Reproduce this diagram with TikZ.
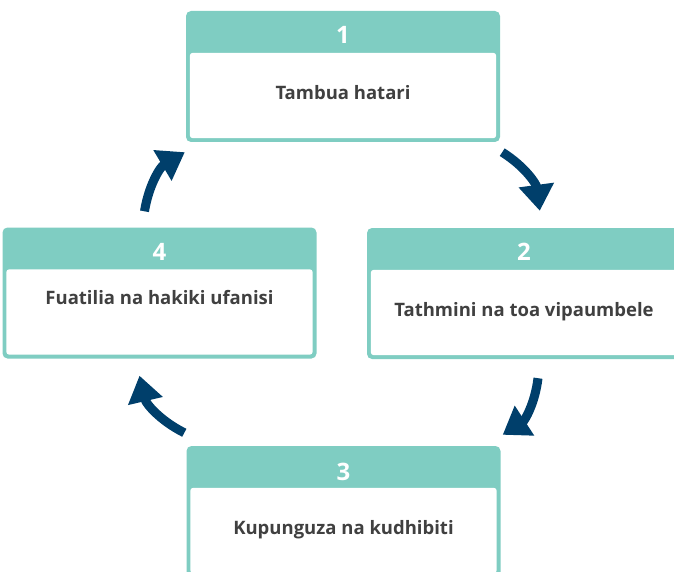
\documentclass[tikz,border=0pt]{standalone}
\usepackage{fontspec}
\setmainfont{Open Sans}
\usetikzlibrary{arrows.meta,calc}
\definecolor{cardteal}{HTML}{7FCDC2}
\definecolor{cyclenavy}{HTML}{003F6B}
\definecolor{cardtext}{HTML}{404040}
\tikzset{
  card/.style={fill=cardteal, rounded corners=5pt, minimum width=314pt, minimum height=131pt, inner sep=0pt},
  cardnum/.style={text=white, font=\bfseries\fontsize{24}{28}\selectfont},
  cardlabel/.style={text=cardtext, font=\bfseries\fontsize{18.5}{22}\selectfont},
  cyclearrow/.style={draw=cyclenavy, line width=9pt, -{Triangle[width=34pt,length=26pt]}}
}
\newcommand{\cardface}[1]{%
  \fill[white, rounded corners=3pt] ([xshift=4pt,yshift=-42pt]#1.north west) rectangle ([xshift=-4pt,yshift=4pt]#1.south east);}
\begin{document}
\begin{tikzpicture}[x=1pt,y=-1pt]
\useasboundingbox (0,0) rectangle (674,572);
% the four cards
\node[card] (s1) at (343,76.5) {};
\node[card] (s2) at (524,293.5) {};
\node[card] (s3) at (343.5,511.5) {};
\node[card] (s4) at (159.5,293) {};
\cardface{s1}
\cardface{s2}
\cardface{s3}
\cardface{s4}
% numbers and labels
\node[cardnum] (n1) at ($(s1.north)+(0,24)$) {1};
\node[cardnum] (n2) at ($(s2.north)+(0,24)$) {2};
\node[cardnum] (n3) at ($(s3.north)+(0,26)$) {3};
\node[cardnum] (n4) at ($(s4.north)+(0,25)$) {4};
\node[cardlabel] (t1) at ($(s1.north)+(0,82)$) {Tambua hatari};
\node[cardlabel] (t2) at ($(s2.north)+(0,84)$) {Tathmini na toa vipaumbele};
\node[cardlabel] (t3) at ($(s3.north)+(0,84)$) {Kupunguza na kudhibiti};
\node[cardlabel] (t4) at ($(s4.north)+(0,70)$) {Fuatilia na hakiki ufanisi};
% cycle arrows
\draw[cyclearrow] ($(s1.south east)+(2,10)$) to[bend left=25] ($(s2.north west)+(173,-17)$);
\draw[cyclearrow] ($(s2.south)+(14,19)$) to[bend left=25] ($(s3.north east)+(2,-11)$);
\draw[cyclearrow] ($(s3.north west)+(-2,-13)$) to[bend left=25] ($(s4.south)+(-20,17)$);
\draw[cyclearrow] ($(s4.north)+(-15,-16)$) to[bend left=25] ($(s1.south west)+(-1,10)$);
\end{tikzpicture}
\end{document}
